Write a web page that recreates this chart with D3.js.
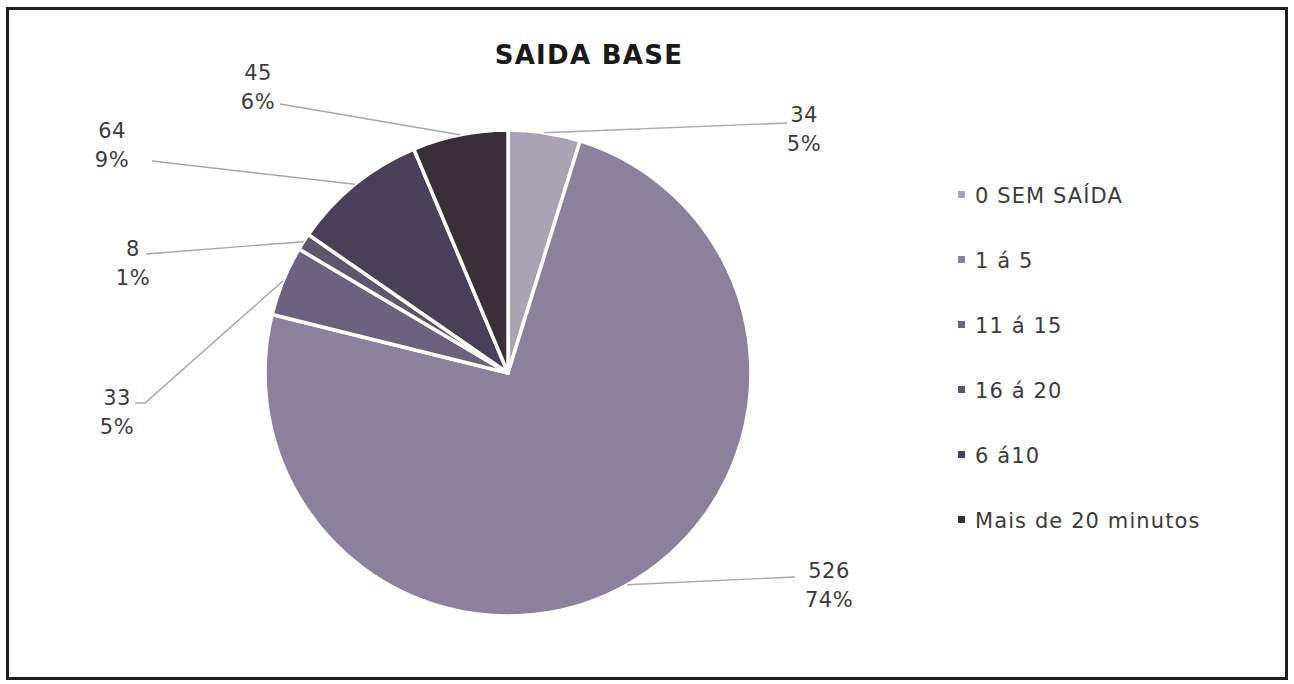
<!DOCTYPE html>
<html>
<head>
<meta charset="utf-8">
<script src="https://cdn.jsdelivr.net/npm/d3@7"></script>
<style>
  html, body { margin: 0; padding: 0; background: #fff; }
  svg { display: block; }
</style>
</head>
<body>
<svg id="chart" width="1294" height="684"></svg>
<script>
// ---- data ----
const title = "SAIDA BASE";
const categories = ["0 SEM SAÍDA", "1 á 5", "11 á 15", "16 á 20", "6 á10", "Mais de 20 minutos"];
const values = [34, 526, 33, 8, 64, 45];
const percentLabels = ["5%", "74%", "5%", "1%", "9%", "6%"];

// ---- styling / layout (not data) ----
const colors = ["#aaa3b6", "#8c819c", "#6c617e", "#5f5571", "#4a3f58", "#3a2f39"];
// label anchor (centre of the two-line label, first baseline) and leader end/elbow, relative to pie centre
const labelLayout = [
  { tx: 296, ty: -251, end: [279, -250], elbow: null },
  { tx: 321, ty: 205,  end: [287, 204],  elbow: null },
  { tx: -391, ty: 32,  end: [-373, 30],  elbow: [-363, 30] },
  { tx: -375, ty: -117, end: [-362, -119], elbow: null },
  { tx: -396, ty: -235, end: [-356, -212], elbow: null },
  { tx: -250, ty: -293, end: [-228, -269], elbow: null }
];

const svg = d3.select("#chart");
const cx = 508, cy = 373, R = 243;

// frame
svg.append("rect")
  .attr("x", 7.5).attr("y", 8.5)
  .attr("width", 1279).attr("height", 670)
  .attr("fill", "#fff")
  .attr("stroke", "#1e1e1e")
  .attr("stroke-width", 3);

// title
svg.append("text")
  .attr("x", 589).attr("y", 64)
  .attr("text-anchor", "middle")
  .attr("font-family", "DejaVu Sans, Verdana, sans-serif")
  .attr("font-weight", "bold")
  .attr("font-size", 26)
  .attr("letter-spacing", 1.3)
  .attr("fill", "#1a1a1a")
  .text(title);

const pie = d3.pie().sort(null).value(d => d)(values);
const arc = d3.arc().innerRadius(0).outerRadius(R);

const g = svg.append("g").attr("transform", `translate(${cx},${cy})`);

g.selectAll("path.slice")
  .data(pie)
  .join("path")
  .attr("class", "slice")
  .attr("d", arc)
  .attr("fill", (d, i) => colors[i])
  .attr("stroke", "#ffffff")
  .attr("stroke-width", 3.5)
  .attr("stroke-linejoin", "round");

// leader lines
g.selectAll("polyline.leader")
  .data(pie)
  .join("polyline")
  .attr("class", "leader")
  .attr("fill", "none")
  .attr("stroke", "#a8a8a8")
  .attr("stroke-width", 1.4)
  .attr("points", (d, i) => {
    const a = (d.startAngle + d.endAngle) / 2;
    const p0 = [R * Math.sin(a), -R * Math.cos(a)];
    const L = labelLayout[i];
    const pts = [p0];
    if (L.elbow) pts.push(L.elbow);
    pts.push(L.end);
    return pts.map(p => p.join(",")).join(" ");
  });

// labels
const lab = g.selectAll("text.dlabel")
  .data(pie)
  .join("text")
  .attr("class", "dlabel")
  .attr("text-anchor", "middle")
  .attr("font-family", "DejaVu Sans, Verdana, sans-serif")
  .attr("font-size", 21)
  .attr("letter-spacing", 0.5)
  .attr("fill", "#3c3c3c");
lab.append("tspan")
  .attr("x", (d, i) => labelLayout[i].tx)
  .attr("y", (d, i) => labelLayout[i].ty)
  .text(d => d.data);
lab.append("tspan")
  .attr("x", (d, i) => labelLayout[i].tx)
  .attr("y", (d, i) => labelLayout[i].ty + 29)
  .text((d, i) => percentLabels[i]);

// legend
const legendY = d3.scalePoint().domain(categories).range([195, 520]);
const leg = svg.append("g").selectAll("g")
  .data(categories)
  .join("g")
  .attr("transform", d => `translate(958,${legendY(d)})`);
leg.append("rect")
  .attr("x", 0).attr("y", -4)
  .attr("width", 7).attr("height", 7)
  .attr("fill", (d, i) => colors[i]);
leg.append("text")
  .attr("x", 17).attr("y", 8)
  .attr("font-family", "DejaVu Sans, Verdana, sans-serif")
  .attr("font-size", 21)
  .attr("letter-spacing", 1.1)
  .attr("fill", "#3c3c3c")
  .text(d => d);
</script>
</body>
</html>
